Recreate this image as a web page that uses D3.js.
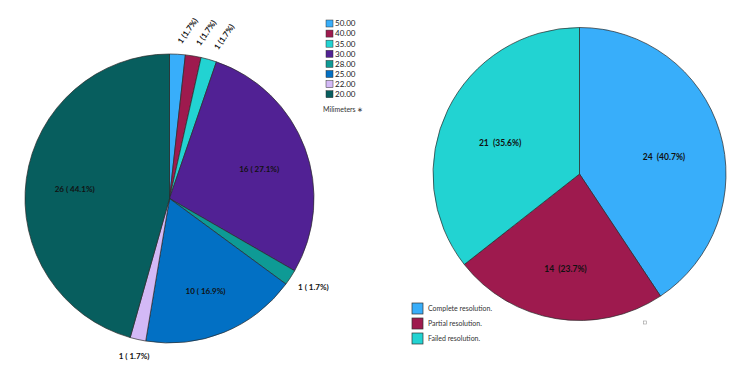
<!DOCTYPE html>
<html>
<head>
<meta charset="utf-8">
<script src="https://cdn.jsdelivr.net/npm/d3@7"></script>
<style>
  body { margin: 0; background: #fff; }
  svg { font-family: Lato, "Open Sans", sans-serif; }
</style>
</head>
<body>
<div id="chart"></div>
<script>
// left pie: diameter groups (mm)
const sizeLabels = ['50.00', '40.00', '35.00', '30.00', '28.00', '25.00', '22.00', '20.00'];
const sizeCounts = [1, 1, 1, 16, 1, 10, 1, 26];
const sizeColors = ['#38aefa', '#9e1a4e', '#22d3d2', '#512194', '#0e9a95', '#0270c4', '#d3b9f6', '#075e5e'];
const sizeTitle = 'Milimeters ∗';
const sizeTotalCases = 59; // percentages are over all cases (2 missing)

// right pie: outcome
const outcomeLabels = ['Complete resolution.', 'Partial resolution.', 'Failed resolution.'];
const outcomeCounts = [24, 14, 21];
const outcomeColors = ['#38aefa', '#9e1a4e', '#22d3d2'];

const width = 750, height = 375;
const svg = d3.select('#chart').append('svg')
  .attr('width', width)
  .attr('height', height);

const pie = d3.pie().sort(null).value(d => d);

function pct(v, total){ return d3.format('.1f')(v / total * 100); }

// ---- left pie ----
const left = { cx: 169.5, cy: 198.5, r: 144.5 };
const leftArcs = pie(sizeCounts);
const leftArc = d3.arc().innerRadius(0).outerRadius(left.r);
const leftG = svg.append('g').attr('transform', `translate(${left.cx},${left.cy})`);

leftG.selectAll('path')
  .data(leftArcs)
  .enter().append('path')
  .attr('d', leftArc)
  .attr('fill', (d, i) => sizeColors[i])
  .attr('stroke', '#2a2a2a')
  .attr('stroke-width', 0.7);

const midAngle = d => (d.startAngle + d.endAngle) / 2;

leftArcs.forEach((d, i) => {
  const a = midAngle(d);
  const txt = `${d.data} ( ${pct(d.data, sizeTotalCases)}%)`;
  if (d.data >= 5) {
    const c = d3.arc().innerRadius(47).outerRadius(left.r).centroid(d);
    leftG.append('text')
      .attr('x', c[0]).attr('y', c[1] + 4)
      .attr('text-anchor', 'middle').attr('dy', '0.35em')
      .style('font-size', '8px').style('font-weight', 700)
      .attr('fill', '#111')
      .text(txt);
  } else if (a < Math.PI / 2) {
    // small slices at the top: rotated
    const R = 168;
    const x = R * Math.sin(a) + 9, y = -R * Math.cos(a);
    leftG.append('text')
      .attr('transform', `translate(${x},${y}) rotate(-55)`)
      .attr('text-anchor', 'middle').attr('dy', '0.35em')
      .style('font-size', '8px').style('font-weight', 700)
      .attr('fill', '#111')
      .text(`${d.data} (${pct(d.data, sizeTotalCases)}%)`);
  } else {
    const R = 162;
    const x = R * Math.sin(a), y = -R * Math.cos(a);
    const right = x > 0;
    leftG.append('text')
      .attr('x', right ? x - 7 : x).attr('y', y)
      .attr('text-anchor', right ? 'start' : 'middle').attr('dy', '0.35em')
      .style('font-size', '8px').style('font-weight', 700)
      .attr('fill', '#111')
      .text(txt);
  }
});

// left legend
const legL = svg.append('g').attr('transform', 'translate(326,20)');
sizeLabels.forEach((lab, i) => {
  legL.append('rect')
    .attr('x', 0).attr('y', i * 10.1)
    .attr('width', 7).attr('height', 7)
    .attr('fill', sizeColors[i])
    .attr('stroke', '#333').attr('stroke-width', 0.5);
  legL.append('text')
    .attr('x', 9).attr('y', i * 10.1 + 3.5)
    .attr('dy', '0.35em')
    .style('font-size', '8px')
    .attr('fill', '#222')
    .text(lab);
});
legL.append('text')
  .attr('x', -3).attr('y', 8 * 10.1 + 8.5)
  .attr('dy', '0.35em')
  .style('font-size', '7px')
  .attr('fill', '#333')
  .text(sizeTitle);

// ---- right pie ----
const right = { cx: 579.5, cy: 174, r: 146.5 };
const rightTotal = d3.sum(outcomeCounts);
const rightArcs = pie(outcomeCounts);
const rightArc = d3.arc().innerRadius(0).outerRadius(right.r);
const rightG = svg.append('g').attr('transform', `translate(${right.cx},${right.cy})`);

rightG.selectAll('path')
  .data(rightArcs)
  .enter().append('path')
  .attr('d', rightArc)
  .attr('fill', (d, i) => outcomeColors[i])
  .attr('stroke', '#2a2a2a')
  .attr('stroke-width', 0.7);

const labelArc = d3.arc().innerRadius(30).outerRadius(right.r);
rightG.selectAll('text')
  .data(rightArcs)
  .enter().append('text')
  .attr('transform', d => {
    const c = labelArc.centroid(d);
    return `translate(${c[0]},${c[1] + 8})`;
  })
  .attr('text-anchor', 'middle').attr('dy', '0.35em')
  .style('font-size', '8.5px').style('font-weight', 700)
  .attr('fill', '#111')
  .attr('xml:space', 'preserve')
  .text(d => `${d.data}  (${pct(d.data, rightTotal)}%)`);

// right legend
const legR = svg.append('g').attr('transform', 'translate(412,303)');
outcomeLabels.forEach((lab, i) => {
  legR.append('rect')
    .attr('x', 0).attr('y', i * 15)
    .attr('width', 11).attr('height', 11)
    .attr('fill', outcomeColors[i])
    .attr('stroke', '#333').attr('stroke-width', 0.7);
  legR.append('text')
    .attr('x', 16).attr('y', i * 15 + 5.5)
    .attr('dy', '0.35em')
    .style('font-size', '7px')
    .attr('fill', '#333')
    .text(lab);
});

// small marker below the right pie
svg.append('rect')
  .attr('x', right.cx + 64).attr('y', right.cy + 147)
  .attr('width', 3).attr('height', 3)
  .attr('fill', 'none').attr('stroke', '#999').attr('stroke-width', 0.6);
</script>
</body>
</html>
